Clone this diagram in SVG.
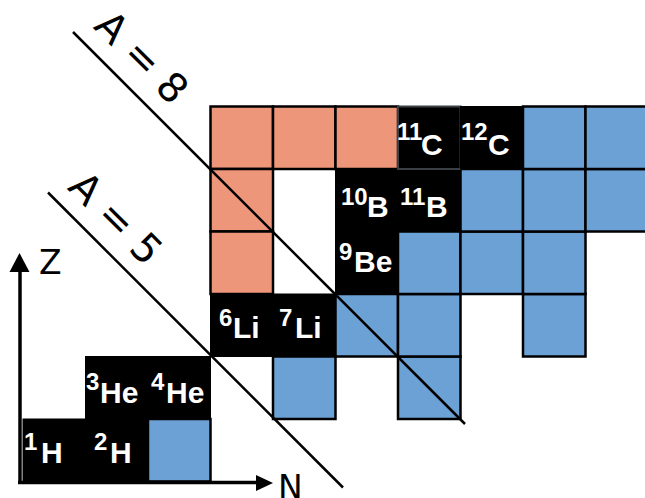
<svg xmlns="http://www.w3.org/2000/svg" width="645" height="498" viewBox="0 0 645 498">
  <style>
    .n  { fill: #6ca1d5; stroke: #000; stroke-width: 2.5; }
    .p  { fill: #ee967a; stroke: #000; stroke-width: 2.5; }
    .s  { fill: #000; stroke: #000; stroke-width: 1; }
    .lbl { fill: #fff; font-family: "Liberation Sans", Arial, sans-serif; font-weight: bold; font-size: 30px; }
    .sup { font-size: 24px; }
    .ax  { stroke: #000; stroke-width: 3.5; fill: none; }
    .iso { stroke: #000; stroke-width: 2.5; fill: none; }
    .cap { font-family: "DejaVu Sans", sans-serif; font-size: 40px; fill: #000; }
    .axl { font-family: "DejaVu Sans", sans-serif; font-size: 33px; fill: #000; }
  </style>

  <!-- neutron-rich (blue) cells -->
  <g id="neutron-rich">
    <rect class="n" x="148" y="419" width="62.5" height="62.5"/>
    <rect class="n" x="273" y="356.5" width="62.5" height="62.5"/>
    <rect class="n" x="398" y="356.5" width="62.5" height="62.5"/>
    <rect class="n" x="335.5" y="294" width="62.5" height="62.5"/>
    <rect class="n" x="398" y="294" width="62.5" height="62.5"/>
    <rect class="n" x="523" y="294" width="62.5" height="62.5"/>
    <rect class="n" x="398" y="231.5" width="62.5" height="62.5"/>
    <rect class="n" x="460.5" y="231.5" width="62.5" height="62.5"/>
    <rect class="n" x="523" y="231.5" width="62.5" height="62.5"/>
    <rect class="n" x="460.5" y="169" width="62.5" height="62.5"/>
    <rect class="n" x="523" y="169" width="62.5" height="62.5"/>
    <rect class="n" x="585.5" y="169" width="62.5" height="62.5"/>
    <rect class="n" x="523" y="106.5" width="62.5" height="62.5"/>
    <rect class="n" x="585.5" y="106.5" width="62.5" height="62.5"/>
  </g>

  <!-- proton-rich (orange) cells -->
  <g id="proton-rich">
    <rect class="p" x="210.5" y="106.5" width="62.5" height="62.5"/>
    <rect class="p" x="273" y="106.5" width="62.5" height="62.5"/>
    <rect class="p" x="335.5" y="106.5" width="62.5" height="62.5"/>
    <rect class="p" x="210.5" y="169" width="62.5" height="62.5"/>
    <rect class="p" x="210.5" y="231.5" width="62.5" height="62.5"/>
  </g>

  <!-- stable nuclides -->
  <g id="H1"><rect class="s" x="23" y="419" width="62.5" height="62.5"/>
    <text class="lbl"><tspan class="sup" x="24" y="450">1</tspan><tspan x="41" y="463">H</tspan></text></g>
  <g id="H2"><rect class="s" x="85.5" y="419" width="62.5" height="62.5"/>
    <text class="lbl"><tspan class="sup" x="94" y="450">2</tspan><tspan x="110" y="463">H</tspan></text></g>
  <g id="He3"><rect class="s" x="85.5" y="356.5" width="62.5" height="62.5"/>
    <text class="lbl"><tspan class="sup" x="86" y="390">3</tspan><tspan x="100" y="403">He</tspan></text></g>
  <g id="He4"><rect class="s" x="148" y="356.5" width="62.5" height="62.5"/>
    <text class="lbl"><tspan class="sup" x="151" y="390">4</tspan><tspan x="166" y="403">He</tspan></text></g>
  <g id="Li6"><rect class="s" x="210.5" y="294" width="62.5" height="62.5"/>
    <text class="lbl"><tspan class="sup" x="219" y="326">6</tspan><tspan x="233" y="338">Li</tspan></text></g>
  <g id="Li7"><rect class="s" x="273" y="294" width="62.5" height="62.5"/>
    <text class="lbl"><tspan class="sup" x="279" y="326">7</tspan><tspan x="295" y="338">Li</tspan></text></g>
  <g id="Be9"><rect class="s" x="335.5" y="231.5" width="62.5" height="62.5"/>
    <text class="lbl"><tspan class="sup" x="339" y="260">9</tspan><tspan x="354" y="272">Be</tspan></text></g>
  <g id="B10"><rect class="s" x="335.5" y="169" width="62.5" height="62.5"/>
    <text class="lbl"><tspan class="sup" x="341" y="205">10</tspan><tspan x="367" y="217">B</tspan></text></g>
  <g id="B11"><rect class="s" x="398" y="169" width="62.5" height="62.5"/>
    <text class="lbl"><tspan class="sup" x="400" y="205">11</tspan><tspan x="426" y="217">B</tspan></text></g>
  <g id="C11"><rect class="s" x="398" y="106.5" width="62.5" height="62.5" style="stroke:#3b4046;stroke-width:2"/>
    <text class="lbl"><tspan class="sup" x="397" y="140">11</tspan><tspan x="421" y="155">C</tspan></text></g>
  <g id="C12"><rect class="s" x="460.5" y="106.5" width="62.5" height="62.5"/>
    <text class="lbl"><tspan class="sup" x="461" y="140">12</tspan><tspan x="488" y="155">C</tspan></text></g>

  <!-- lines of constant mass number -->
  <g id="isobars">
    <line class="iso" x1="73" y1="32" x2="465" y2="424"/>
    <line class="iso" x1="48" y1="192.5" x2="343" y2="487.5"/>
    <text class="cap" text-anchor="middle" transform="translate(142,57) rotate(45)" y="14">A = 8</text>
    <text class="cap" text-anchor="middle" transform="translate(116,218) rotate(45)" y="14">A = 5</text>
  </g>

  <!-- axes -->
  <g id="axes">
    <line class="ax" x1="20" y1="484" x2="20" y2="268"/>
    <polygon points="19.5,253 9.5,272 29.5,272" fill="#000"/>
    <line class="ax" x1="18" y1="482.5" x2="259" y2="482.5"/>
    <polygon points="273,483 256,475 256,491" fill="#000"/>
    <text class="axl" x="278" y="499">N</text>
    <text class="axl" x="39" y="274">Z</text>
  </g>
</svg>
